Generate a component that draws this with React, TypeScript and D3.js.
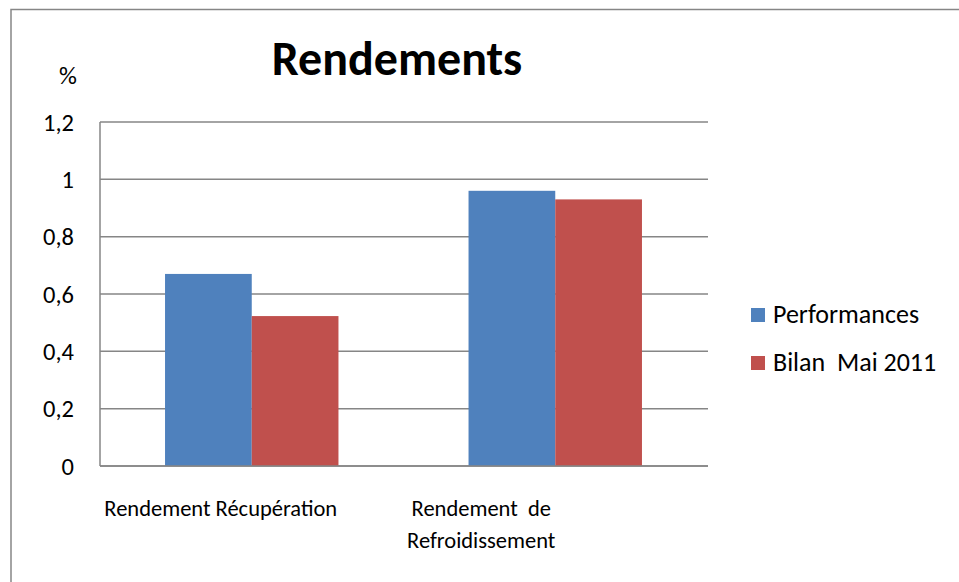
import React, { useEffect, useRef } from 'react';
import * as d3 from 'd3';

const categories = ['Rendement Récupération', 'Rendement  de\nRefroidissement'];
const seriesNames = ['Performances', 'Bilan  Mai 2011'];
const performances = [0.67, 0.96];
const bilanMai2011 = [0.523, 0.93];
const yTicks = [0, 0.2, 0.4, 0.6, 0.8, 1, 1.2];
const yTickLabels = ['0', '0,2', '0,4', '0,6', '0,8', '1', '1,2'];
const colors = ['#4F81BD', '#C0504D'];

const FONT = 'Carlito, Lato, "Open Sans", sans-serif';

const App = () => {
  const svgRef = useRef<SVGSVGElement>(null);

  useEffect(() => {
    document.body.style.margin = '0';
    if (!svgRef.current) return;
    const svg = d3.select(svgRef.current);
    svg.selectAll('*').remove();

    const width = 959;
    const height = 582;
    const margin = { top: 122, left: 100, right: 252, bottom: 116 };

    // outer chart frame
    svg.append('rect')
      .attr('x', 11).attr('y', 9.5)
      .attr('width', 1000).attr('height', 1000)
      .attr('fill', 'white')
      .attr('stroke', '#868686').attr('stroke-width', 1.5);

    const x0 = d3.scaleBand<string>()
      .domain(categories)
      .range([margin.left, width - margin.right])
      .paddingInner(0).paddingOuter(0);

    const band = x0.bandwidth();
    const barW = band / 3.5;
    const x1 = d3.scaleBand<number>()
      .domain([0, 1])
      .range([(band - 2 * barW) / 2, (band + 2 * barW) / 2]);

    const y = d3.scaleLinear()
      .domain([0, 1.2])
      .range([height - margin.bottom, margin.top]);

    // gridlines
    svg.append('g')
      .selectAll('line')
      .data(yTicks)
      .join('line')
      .attr('x1', margin.left).attr('x2', width - margin.right + 1)
      .attr('y1', d => y(d)).attr('y2', d => y(d))
      .attr('stroke', '#868686').attr('stroke-width', 1.5);

    // y axis line
    svg.append('line')
      .attr('x1', margin.left).attr('x2', margin.left)
      .attr('y1', y(1.2)).attr('y2', y(0))
      .attr('stroke', '#868686').attr('stroke-width', 1.5);

    // bars
    const series = [performances, bilanMai2011];
    series.forEach((vals, si) => {
      svg.append('g')
        .selectAll('rect')
        .data(vals)
        .join('rect')
        .attr('x', (d, i) => x0(categories[i])! + x1(si)!)
        .attr('y', d => y(d))
        .attr('width', x1.bandwidth())
        .attr('height', d => y(0) - y(d))
        .attr('fill', colors[si]);
    });

    // redraw baseline on top
    svg.append('line')
      .attr('x1', margin.left).attr('x2', width - margin.right + 1)
      .attr('y1', y(0)).attr('y2', y(0))
      .attr('stroke', '#868686').attr('stroke-width', 1.5);

    // y tick labels
    svg.append('g')
      .selectAll('text')
      .data(yTicks)
      .join('text')
      .attr('x', 74)
      .attr('y', d => y(d) + 8.5)
      .attr('text-anchor', 'end')
      .style('font-family', FONT)
      .style('font-size', '24.5px')
      .text((d, i) => yTickLabels[i]);

    svg.append('text')
      .attr('x', 68).attr('y', 84)
      .attr('text-anchor', 'middle')
      .style('font-family', FONT)
      .style('font-size', '25px')
      .text('%');

    // title
    svg.append('text')
      .attr('x', 397).attr('y', 75)
      .attr('text-anchor', 'middle')
      .style('font-family', FONT)
      .style('font-size', '48px')
      .style('font-weight', 'bold')
      .text('Rendements');

    // x category labels (Excel wraps them slightly left of the band centre)
    const labelShift = [31, 74];
    categories.forEach((cat, ci) => {
      const cx = x0(cat)! + band / 2 - labelShift[ci];
      const lines = cat.split('\n');
      const t = svg.append('text')
        .attr('text-anchor', 'middle')
        .attr('xml:space', 'preserve')
        .style('white-space', 'pre')
        .style('font-family', FONT)
        .style('font-size', '22.5px');
      lines.forEach((ln, li) => {
        t.append('tspan')
          .attr('x', cx)
          .attr('y', 516 + li * 32)
          .text(ln);
      });
    });

    // legend
    const legend = svg.append('g');
    seriesNames.forEach((name, i) => {
      const ly = 315 + i * 48;
      legend.append('rect')
        .attr('x', 751).attr('y', ly - 7)
        .attr('width', 14).attr('height', 14)
        .attr('fill', colors[i]);
      legend.append('text')
        .attr('x', 773).attr('y', ly + 8)
        .style('font-family', FONT)
        .style('font-size', '26px')
        .style('white-space', 'pre')
        .attr('xml:space', 'preserve')
        .text(name);
    });
  }, []);

  return <svg ref={svgRef} width={959} height={582} style={{ display: 'block' }} />;
};

export default App;
